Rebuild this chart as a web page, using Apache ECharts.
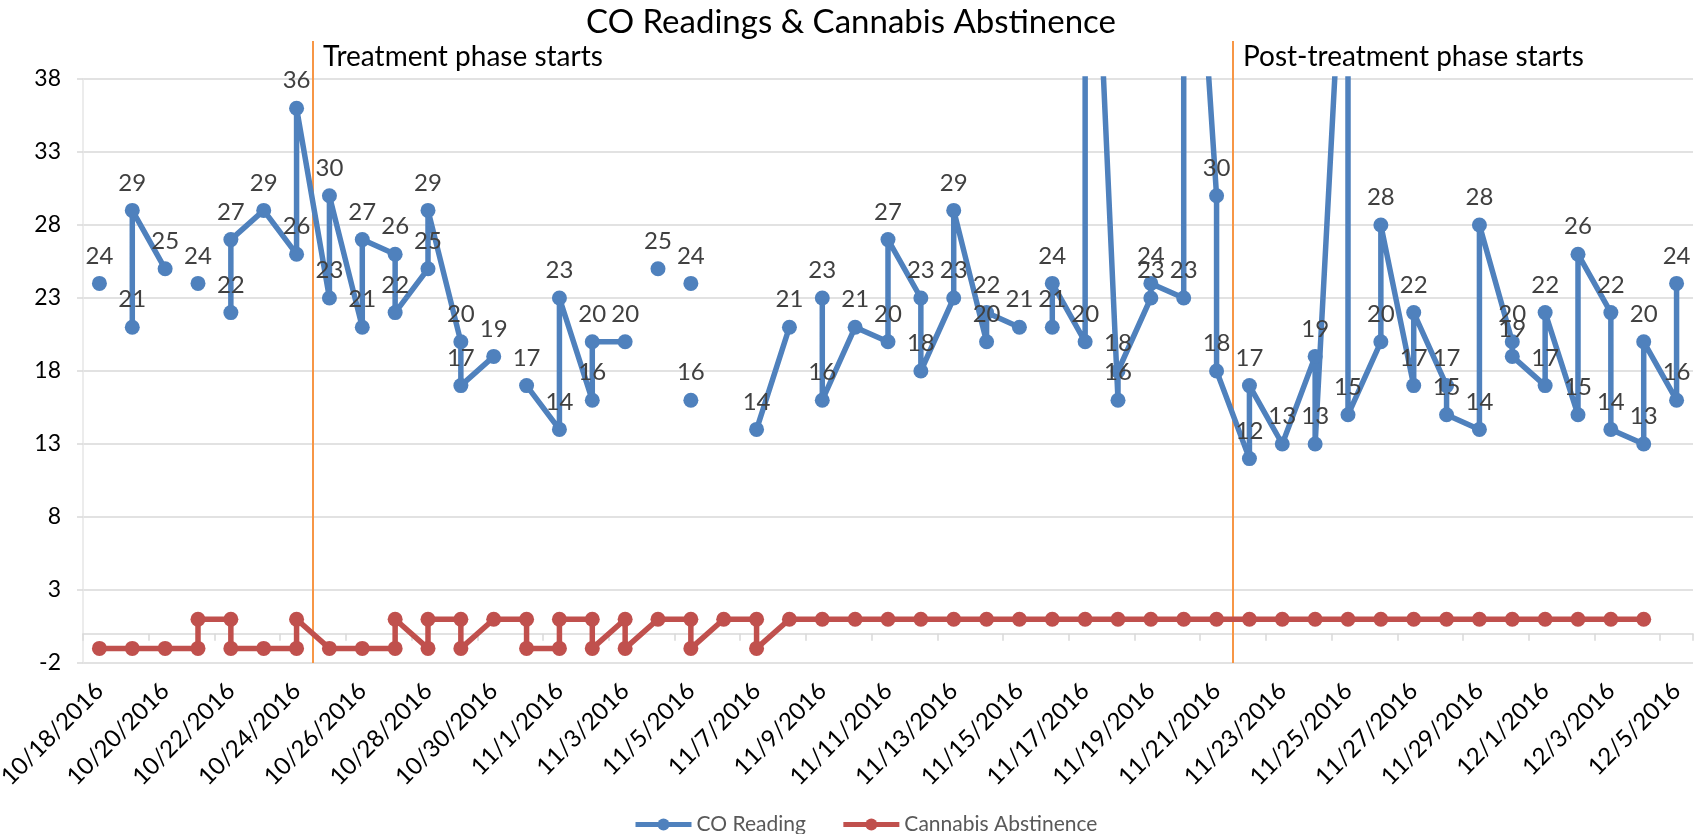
<!DOCTYPE html>
<html>
<head>
<meta charset="utf-8">
<title>CO Readings & Cannabis Abstinence</title>
<script src="https://cdn.jsdelivr.net/npm/echarts/dist/echarts.min.js"></script>
<style>
  html, body { margin: 0; padding: 0; background: #fff; }
  #main { width: 1702px; height: 834px; }
</style>
</head>
<body>
<div id="main"></div>
<script>
// one category per day, labels shown every second day
var days = [
  '10/18/2016','10/19/2016','10/20/2016','10/21/2016','10/22/2016','10/23/2016','10/24/2016',
  '10/25/2016','10/26/2016','10/27/2016','10/28/2016','10/29/2016','10/30/2016','10/31/2016',
  '11/1/2016','11/2/2016','11/3/2016','11/4/2016','11/5/2016','11/6/2016','11/7/2016',
  '11/8/2016','11/9/2016','11/10/2016','11/11/2016','11/12/2016','11/13/2016','11/14/2016',
  '11/15/2016','11/16/2016','11/17/2016','11/18/2016','11/19/2016','11/20/2016','11/21/2016',
  '11/22/2016','11/23/2016','11/24/2016','11/25/2016','11/26/2016','11/27/2016','11/28/2016',
  '11/29/2016','11/30/2016','12/1/2016','12/2/2016','12/3/2016','12/4/2016','12/5/2016'
];

// CO readings in entry order (several per day), null = gap in the line
var coDate = [
  '10/18', null,
  '10/19','10/19','10/20', null,
  '10/21', null,
  '10/22','10/22','10/23','10/24','10/24','10/25','10/25','10/26','10/26','10/27','10/27','10/28','10/28','10/29','10/29','10/30', null,
  '10/31','11/1','11/1','11/2','11/2','11/3', null,
  '11/4', null,
  '11/5', null,
  '11/5', null,
  '11/7','11/8', null,
  '11/9','11/9','11/10','11/11','11/11','11/12','11/12','11/13','11/13','11/14','11/14','11/15', null,
  '11/16','11/16','11/17','11/17','11/18','11/18','11/19','11/19','11/20','11/20','11/21','11/21','11/22','11/22','11/23',
  '11/24','11/24','11/25','11/25','11/26','11/26','11/27','11/27','11/28','11/28','11/29','11/29','11/30','11/30',
  '12/1','12/1','12/2','12/2','12/3','12/3','12/4','12/4','12/5','12/5'
];
var coValue = [
  24, null,
  21, 29, 25, null,
  24, null,
  22, 27, 29, 26, 36, 23, 30, 21, 27, 26, 22, 25, 29, 20, 17, 19, null,
  17, 14, 23, 16, 20, 20, null,
  25, null,
  24, null,
  16, null,
  14, 21, null,
  23, 16, 21, 20, 27, 23, 18, 23, 29, 20, 22, 21, null,
  21, 24, 20, 66, 16, 18, 23, 24, 23, 64, 30, 18, 12, 17, 13,
  19, 13, 55, 15, 20, 28, 17, 22, 17, 15, 14, 28, 20, 19,
  17, 22, 15, 26, 22, 14, 13, 20, 16, 24
];

// cannabis abstinence (1 = abstinent, -1 = not)
var abstDate = [
  '10/18','10/19','10/20','10/21','10/21','10/22','10/22','10/23','10/24','10/24','10/25','10/26',
  '10/27','10/27','10/28','10/28','10/29','10/29','10/30','10/31','10/31','11/1','11/1','11/2','11/2',
  '11/3','11/3','11/4','11/5','11/5','11/6','11/7','11/7',
  '11/8','11/9','11/10','11/11','11/12','11/13','11/14','11/15','11/16','11/17','11/18','11/19','11/20',
  '11/21','11/22','11/23','11/24','11/25','11/26','11/27','11/28','11/29','11/30','12/1','12/2','12/3','12/4'
];
var abstValue = [
  -1, -1, -1, -1, 1, 1, -1, -1, -1, 1, -1, -1,
  -1, 1, -1, 1, 1, -1, 1, 1, -1, -1, 1, 1, -1,
  1, -1, 1, 1, -1, 1, 1, -1,
  1, 1, 1, 1, 1, 1, 1, 1, 1, 1, 1, 1, 1,
  1, 1, 1, 1, 1, 1, 1, 1, 1, 1, 1, 1, 1, 1
];

// phase markers: line drawn at the start of that day
var phaseDate = ['10/25/2016', '11/22/2016'];
var phaseText = ['Treatment phase starts', 'Post-treatment phase starts'];

var font = 'Lato';
var gridColor = '#d9d9d9';

function pairs(dates, values) {
  var out = [];
  for (var i = 0; i < dates.length; i++) {
    if (dates[i] === null || values[i] === null) {
      out.push([days[0], '-']);   // break the line
    } else {
      out.push([dates[i] + '/2016', values[i]]);
    }
  }
  return out;
}

var myChart = echarts.init(document.getElementById('main'));

var option = {
  animation: false,
  backgroundColor: '#fff',
  title: {
    text: 'CO Readings & Cannabis Abstinence',
    left: 'center',
    top: 1,
    textStyle: { fontFamily: font, fontSize: 33, fontWeight: 'normal', color: '#000' }
  },
  legend: {
    data: ['CO Reading', 'Cannabis Abstinence'],
    left: 628,
    top: 809,
    itemWidth: 56,
    itemHeight: 15,
    itemGap: 35,
    lineStyle: { width: 5 },
    textStyle: { fontFamily: font, fontSize: 21, color: '#595959' }
  },
  // fixed plot box, don't let the rotated labels push it around
  grid: { left: 83, right: 9, top: 79, bottom: 171, containLabel: false, outerBoundsMode: 'none' },
  xAxis: [
    {
      // labels at the bottom
      type: 'category',
      data: days,
      boundaryGap: true,
      axisLine: { show: false, onZero: false },
      axisTick: { show: false },
      axisLabel: { interval: 1, rotate: 45, margin: 24, fontFamily: font, fontSize: 24, color: '#000' },
      splitLine: { show: false }
    },
    {
      // axis line + ticks crossing at zero
      type: 'category',
      data: days,
      position: 'bottom',
      boundaryGap: true,
      axisLine: { show: true, onZero: true, lineStyle: { color: gridColor, width: 1.5 } },
      axisTick: { show: true, interval: 1, length: 7, lineStyle: { color: gridColor, width: 1.5 } },
      axisLabel: { show: false },
      splitLine: { show: false }
    }
  ],
  yAxis: {
    type: 'value',
    min: -2,
    max: 38,
    interval: 5,
    axisLine: { show: true, lineStyle: { color: '#e6e6e6', width: 1.5 } },
    axisTick: { show: true, length: 6, lineStyle: { color: gridColor, width: 1.5 } },
    axisLabel: { margin: 22, fontFamily: font, fontSize: 23, color: '#000' },
    splitLine: { lineStyle: { color: gridColor, width: 1.5 } }
  },
  series: [
    {
      name: 'CO Reading',
      type: 'line',
      xAxisIndex: 0,
      data: pairs(coDate, coValue),
      symbol: 'circle',
      symbolSize: 15,
      connectNulls: false,
      lineStyle: { color: '#4F81BD', width: 5.5 },
      itemStyle: { color: '#4F81BD' },
      label: { show: true, position: 'top', distance: 8, fontFamily: font, fontSize: 24, color: '#404040' },
      z: 3
    },
    {
      name: 'Cannabis Abstinence',
      type: 'line',
      xAxisIndex: 0,
      data: pairs(abstDate, abstValue),
      symbol: 'circle',
      symbolSize: 15,
      lineStyle: { color: '#C0504D', width: 5.5 },
      itemStyle: { color: '#C0504D' },
      z: 2
    },
    {
      name: 'phase',
      type: 'custom',
      xAxisIndex: 0,
      silent: true,
      clip: false,
      z: 1,
      data: phaseDate.map(function (d) { return [d, 38]; }),
      renderItem: function (params, api) {
        var cs = params.coordSys;
        var half = api.size([1, 0])[0] / 2;
        var x = api.coord([api.value(0), 38])[0] - half;
        return {
          type: 'group',
          children: [
            {
              type: 'line',
              shape: { x1: x, y1: cs.y - 38, x2: x, y2: cs.y + cs.height },
              style: { stroke: '#F79646', lineWidth: 2 }
            },
            {
              type: 'text',
              x: x + 10,
              y: cs.y - 22,
              style: {
                text: phaseText[params.dataIndex],
                fill: '#000',
                fontFamily: font,
                fontSize: 28,
                verticalAlign: 'middle',
                align: 'left'
              }
            }
          ]
        };
      }
    }
  ]
};

myChart.setOption(option);
</script>
</body>
</html>
